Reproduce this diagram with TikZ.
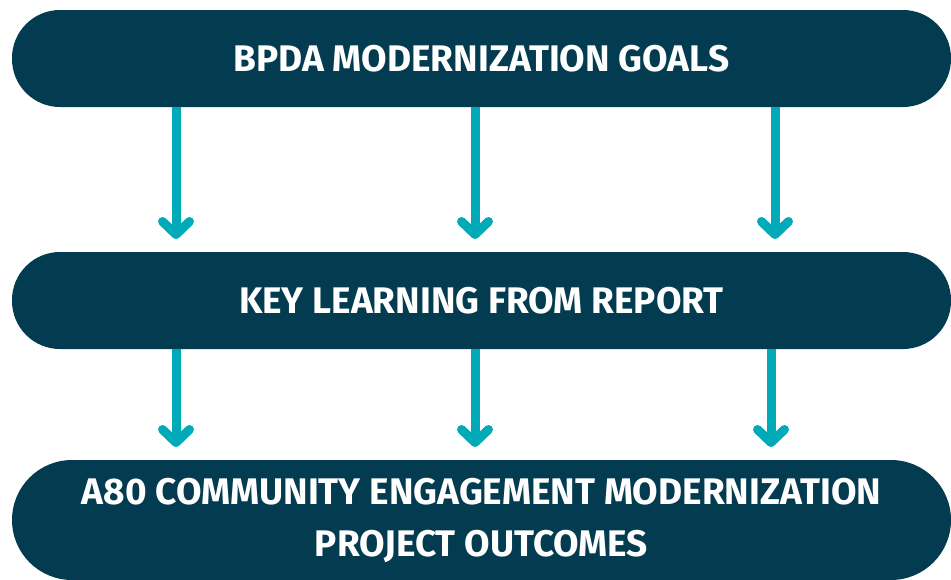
\documentclass[tikz,border=0pt]{standalone}
\usepackage{fontspec}
\setmainfont{Fira Sans}
\usetikzlibrary{arrows.meta}
\definecolor{pilldark}{HTML}{033B50}
\definecolor{arrowteal}{HTML}{00AAB8}
\tikzset{
  pill/.style={fill=pilldark, text=white, rounded corners=#1, minimum width=939pt,
    font=\fontsize{37}{52}\selectfont\bfseries, align=center, inner sep=0pt},
  flow/.style={draw=arrowteal, line width=9pt,
    -{Straight Barb[length=13pt, width=27pt, line cap=round, line join=round]}}
}
\begin{document}
\begin{tikzpicture}[x=1pt,y=-1pt]
\useasboundingbox (0,0) rectangle (951,579);
\clip (0,0) rectangle (951,579);
\node[pill=48pt, minimum height=97pt] (goals) at (481.5,58.5) {BPDA MODERNIZATION GOALS};
\node[pill=48pt, minimum height=97pt] (key) at (481.5,300.5) {KEY LEARNING FROM REPORT};
\node[pill=60pt, minimum height=120pt] (out) at (481.5,520) {A80 COMMUNITY ENGAGEMENT MODERNIZATION\\PROJECT OUTCOMES};
\coordinate (e1) at (176,239);
\coordinate (e2) at (475,239);
\coordinate (e3) at (775,239);
\coordinate (f1) at (176,447);
\coordinate (f2) at (475,447);
\coordinate (f3) at (771,447);
\draw[flow] (goals.south -| e1) -- (e1);
\draw[flow] (goals.south -| e2) -- (e2);
\draw[flow] (goals.south -| e3) -- (e3);
\draw[flow] (key.south -| f1) -- (f1);
\draw[flow] (key.south -| f2) -- (f2);
\draw[flow] (key.south -| f3) -- (f3);
\end{tikzpicture}
\end{document}
